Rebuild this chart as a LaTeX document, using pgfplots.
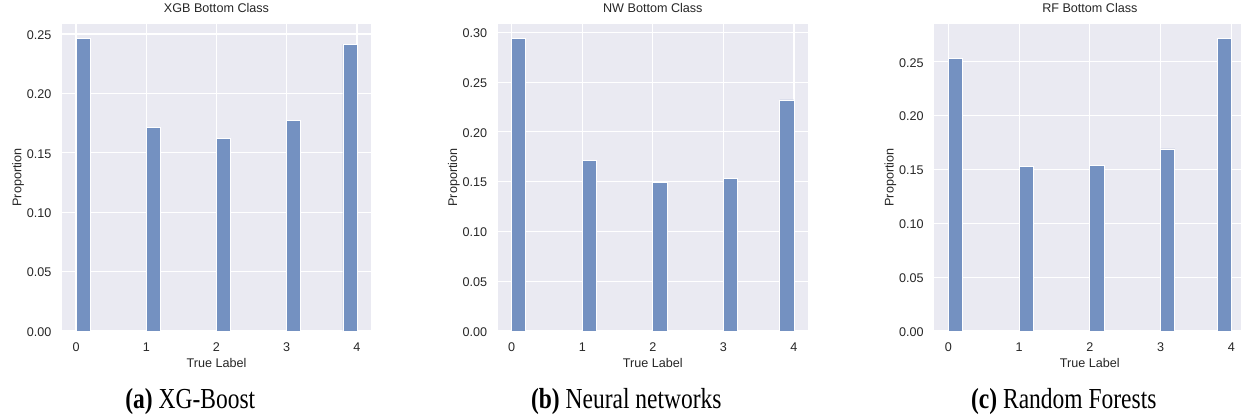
\documentclass[border=0pt]{standalone}
\usepackage{fontspec}
\usepackage{graphicx}
\setmainfont{Liberation Sans}
\newfontfamily\capfont{Liberation Serif}
\usepackage{pgfplots}
\pgfplotsset{compat=1.18}
\definecolor{bgc}{RGB}{234,234,242}
\definecolor{barc}{RGB}{116,145,193}
\definecolor{txt}{RGB}{38,38,38}
\newcommand{\mplfont}{\fontsize{12.6}{14}\selectfont}
\pgfplotsset{
  sns/.style={
    scale only axis,
    height=307pt,
    xmin=-0.2, xmax=4.2, ymin=0,
    axis background/.style={fill=bgc},
    axis line style={draw=none},
    major tick length=0pt,
    grid=major,
    major grid style={white, line width=1.1pt},
    xtick={0,1,2,3,4},
    /pgf/number format/assume math mode=true,
    tick label style={font=\mplfont, text=txt},
    xticklabel style={anchor=base, inner sep=0pt, yshift=-20pt},
    yticklabel style={/pgf/number format/.cd, fixed, fixed zerofill, precision=2, /tikz/.cd, anchor=east, inner sep=0pt, xshift=-10.3pt, yshift=-1pt},
    label style={font=\mplfont, text=txt},
    title style={font=\mplfont, text=txt, at={([yshift=5.7pt]axis description cs:0.5,1)}, anchor=base, inner sep=0pt},
    xlabel style={at={([yshift=-36.7pt]axis description cs:0.5,0)}, anchor=base, inner sep=0pt},
    ylabel style={at={([xshift=-40.6pt]axis description cs:0,0.5)}, anchor=base, inner sep=0pt},
    xlabel={True Label},
    ylabel={Proportion},
    ybar, bar width=0.2, bar shift=0pt,
  },
  snsbar/.style={fill=barc, draw=white, line width=0.8pt},
}
\begin{document}
\begin{tikzpicture}
\useasboundingbox (0,0) rectangle (1241pt,418pt);
% (a)
\begin{axis}[sns, width=309pt, at={(62pt,87pt)}, anchor=south west,
  ymax=0.2584, ytick={0,0.05,0.1,0.15,0.2,0.25},
  title={XGB Bottom Class}]
\addplot[snsbar] coordinates {(0.1,0.2461) (1.1,0.1715) (2.1,0.1620) (3.1,0.1775) (3.9,0.2415)};
\end{axis}
% (b)
\begin{axis}[sns, width=310.5pt, at={(497.6pt,87pt)}, anchor=south west,
  ymax=0.3083, ytick={0,0.05,0.1,0.15,0.2,0.25,0.3},
  title={NW Bottom Class}]
\addplot[snsbar] coordinates {(0.1,0.2935) (1.1,0.1715) (2.1,0.1495) (3.1,0.1535) (3.9,0.2320)};
\end{axis}
% (c)
\begin{axis}[sns, width=311.3pt, at={(934.2pt,87pt)}, anchor=south west,
  ymax=0.2850, ytick={0,0.05,0.1,0.15,0.2,0.25},
  title={RF Bottom Class}]
\addplot[snsbar] coordinates {(0.1,0.2530) (1.1,0.1530) (2.1,0.1540) (3.1,0.1690) (3.9,0.2715)};
\end{axis}
% captions
\node[anchor=base, inner sep=0pt] at (190.3pt,9.5pt) {\scalebox{0.81}[1]{\capfont\fontsize{29}{30}\selectfont\textbf{(a)} XG-Boost}};
\node[anchor=base, inner sep=0pt] at (626.3pt,9.5pt) {\scalebox{0.81}[1]{\capfont\fontsize{29}{30}\selectfont\textbf{(b)} Neural networks}};
\node[anchor=base, inner sep=0pt] at (1063.8pt,9.5pt) {\scalebox{0.81}[1]{\capfont\fontsize{29}{30}\selectfont\textbf{(c)} Random Forests}};
\end{tikzpicture}
\end{document}
